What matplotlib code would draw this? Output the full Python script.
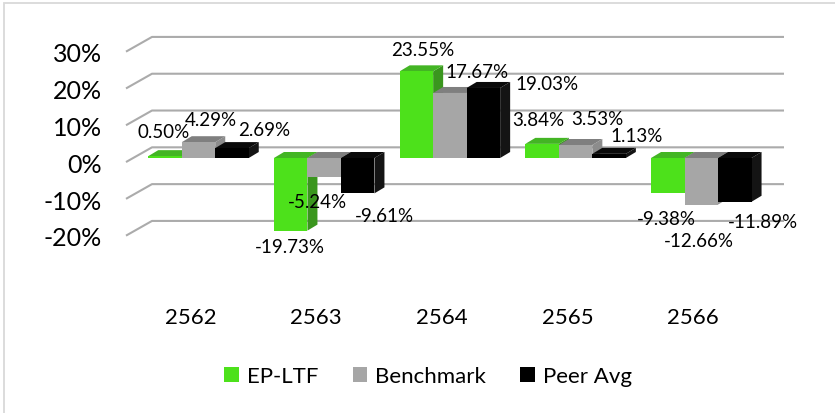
import matplotlib.pyplot as plt
from matplotlib.patches import Rectangle, Polygon, Patch

plt.rcParams['font.family'] = ['Lato', 'DejaVu Sans']

# data
years = ['2562', '2563', '2564', '2565', '2566']
series_names = ['EP-LTF', 'Benchmark', 'Peer Avg']
ep_ltf = [0.50, -19.73, 23.55, 3.84, -9.38]
benchmark = [4.29, -5.24, 17.67, 3.53, -12.66]
peer_avg = [2.69, -9.61, 19.03, 1.13, -11.89]
yticks = [30, 20, 10, 0, -10, -20]

# colours: front, top, side
colors = [('#4DE11B', '#43B524', '#3A961E'),
          ('#A6A6A6', '#7F7F7F', '#8C8C8C'),
          ('#000000', '#0A0A0A', '#141414')]

# label offsets in pixels (dx right, dy down) from bar front top
label_off = [
    [(-1, -25), (-1, 16), (6, -22), (-4, -24), (-1, 26)],
    [(12, -23), (-7, 24), (27, -21), (22, -27), (-2, 36)],
    [(32, -19), (27, 22), (64, -4), (28, -18), (28, 20)],
]

W, H = 835, 414
fig = plt.figure(figsize=(W / 100, H / 100), dpi=100)

# pixel geometry
px_x = 125.7   # px per category
px_y = 3.68    # px per percent
x_c0 = 198.5   # px of first group centre
y_0 = 159      # px of 0 on bar front
ax_l, ax_r, ax_t, ax_b = 100, 800, 20, 300
ax = fig.add_axes([ax_l / W, 1 - ax_b / H, (ax_r - ax_l) / W, (ax_b - ax_t) / H])
ax.set_xlim((ax_l - x_c0) / px_x, (ax_r - x_c0) / px_x)
ax.set_ylim((y_0 - ax_b) / px_y, (y_0 - ax_t) / px_y)
ax.axis('off')

# border of the chart area
fig.patches.append(Rectangle((3.5 / W, -0.1), 1.2, 1.1 - 3.5 / H, transform=fig.transFigure,
                             fill=False, edgecolor='#D9D9D9', lw=1.3))

# back wall gridlines and side diagonals
xf = (126 - x_c0) / px_x
xb = (152 - x_c0) / px_x
xe = (784 - x_c0) / px_x
for v in yticks:
    yf = v - 1.1
    yb = v + 2.9
    ax.plot([xf, xb, xe], [yf, yb, yb], color='#ABABAB', lw=1.5, zorder=1,
            solid_capstyle='butt')
    ax.text((102 - x_c0) / px_x, v - 1.7, f'{v}%', ha='right', va='center', fontsize=18,
            color='#000000')

# bars with pseudo 3d faces
w = 33.5 / px_x
ddx = 10 / px_x
ddy = 6 / px_y
all_vals = [ep_ltf, benchmark, peer_avg]
z = 3
for i in range(len(years)):
    for s, vals in enumerate(all_vals):
        v = vals[i]
        front, top_c, side_c = colors[s]
        x0 = i + (s - 1) * w - w / 2
        top = max(v, 0)
        side = Polygon([(x0 + w, 0), (x0 + w, v), (x0 + w + ddx, v + ddy), (x0 + w + ddx, ddy)],
                       closed=True, facecolor=side_c, edgecolor='none', zorder=z)
        topf = Polygon([(x0, top), (x0 + w, top), (x0 + w + ddx, top + ddy), (x0 + ddx, top + ddy)],
                       closed=True, facecolor=top_c, edgecolor='none', zorder=z + 1)
        frontf = Rectangle((x0, 0), w, v, facecolor=front, edgecolor='none', zorder=z + 2)
        ax.add_patch(side)
        ax.add_patch(topf)
        ax.add_patch(frontf)
        z += 3

# data labels
for s, vals in enumerate(all_vals):
    for i, v in enumerate(vals):
        xc = i + (s - 1) * w
        dx, dy = label_off[s][i]
        ax.annotate(f'{v:.2f}%', (xc, v), xytext=(dx, -dy), textcoords='offset pixels',
                    ha='center', va='center', fontsize=13.5, zorder=100)

# category labels
for i, yr in enumerate(years):
    ax.text(i - 8 / px_x, (y_0 - 318) / px_y, yr, ha='center', va='center', fontsize=16)

# legend
handles = [Patch(facecolor=c[0], edgecolor='none') for c in colors]
fig.legend(handles, series_names, loc='center', bbox_to_anchor=(428 / W, 1 - 377 / H),
           ncol=3, frameon=False, fontsize=16, handlelength=0.66, handleheight=0.66,
           handletextpad=0.35, columnspacing=1.55)

fig.savefig('out.png', dpi=100)
